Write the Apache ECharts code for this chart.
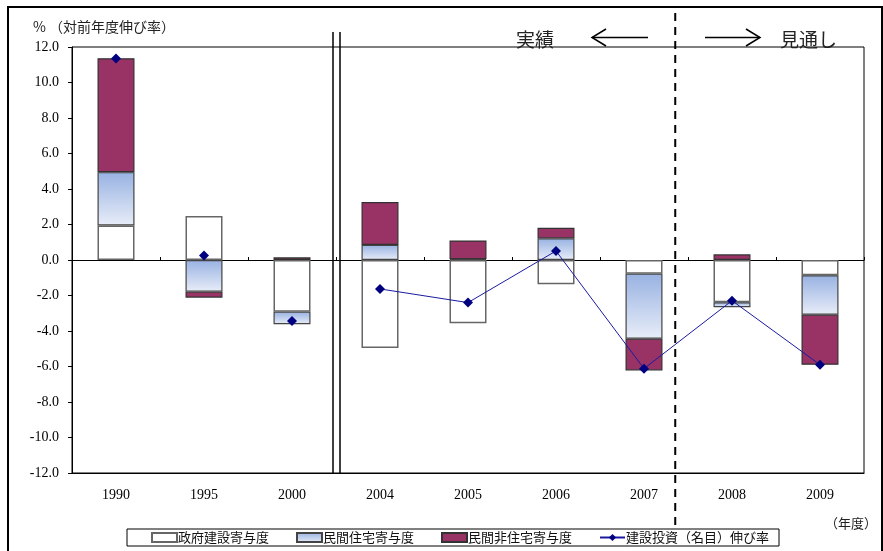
<!DOCTYPE html>
<html>
<head>
<meta charset="utf-8">
<script src="https://cdn.jsdelivr.net/npm/echarts@6/dist/echarts.min.js"></script>
<style>
  html, body { margin: 0; padding: 0; background: #fff; }
  #chart { width: 883px; height: 551px; }
</style>
</head>
<body>
<div id="chart"></div>
<script>
  // 年度
  var categories = ['1990', '1995', '2000', '2004', '2005', '2006', '2007', '2008', '2009'];
  // 寄与度 (%)
  var govValues = [1.95, 2.48, -2.91, -4.96, -3.57, -1.37, -0.77, -2.38, -0.86];
  var housingValues = [3.0, -1.78, -0.71, 0.85, 0.05, 1.22, -3.66, -0.28, -2.22];
  var nonResValues = [6.42, -0.34, 0.15, 2.42, 1.05, 0.6, -1.79, 0.32, -2.82];
  // 建設投資（名目）伸び率
  var growthValues = [11.35, 0.25, -3.44, -1.63, -2.4, 0.51, -6.12, -2.29, -5.9];
  var yTicks = [-12, 12, 2];

  var serif = '"Liberation Serif", "Times New Roman", serif';
  var jp = '"Noto Sans CJK JP", sans-serif';
  var growthName = '建設投資（名目）伸び率';

  var myChart = echarts.init(document.getElementById('chart'));

  myChart.setOption({
    animation: false,
    title: [
      {
        text: '% （対前年度伸び率）',
        left: 28, top: 15,
        textStyle: {fontFamily: jp, fontSize: 14, fontWeight: 'normal', color: '#222'}
      },
      {
        text: '（年度）',
        left: 820, top: 512,
        textStyle: {fontFamily: jp, fontSize: 13, fontWeight: 'normal', color: '#222'}
      }
    ],
    grid: {
      left: 72, right: 19, top: 47, bottom: 78,
      show: true, borderColor: '#000', borderWidth: 1
    },
    legend: {
      left: 127, top: 529,
      padding: [2, 10, 2, 24],
      itemGap: 27,
      itemWidth: 25, itemHeight: 9,
      borderColor: '#000', borderWidth: 1,
      textStyle: {fontFamily: jp, fontSize: 13, color: '#111', padding: [0, 0, 0, -4]},
      data: [
        {name: '政府建設寄与度', icon: 'rect'},
        {name: '民間住宅寄与度', icon: 'rect'},
        {name: '民間非住宅寄与度', icon: 'rect'},
        growthName
      ]
    },
    xAxis: [
      {
        type: 'category',
        data: categories,
        axisLine: {onZero: false, lineStyle: {color: '#000'}},
        axisTick: {show: false},
        axisLabel: {fontFamily: serif, fontSize: 14, color: '#000', margin: 15}
      },
      {
        type: 'category',
        data: categories,
        position: 'bottom',
        axisLine: {onZero: true, lineStyle: {color: '#000'}},
        axisTick: {show: true, inside: true, length: 3, lineStyle: {color: '#000'}},
        axisLabel: {show: false}
      }
    ],
    yAxis: {
      type: 'value',
      min: yTicks[0], max: yTicks[1], interval: yTicks[2],
      splitLine: {show: false},
      axisLine: {show: true, lineStyle: {color: '#000'}},
      axisTick: {show: true, length: 4, lineStyle: {color: '#000'}},
      axisLabel: {
        fontFamily: serif, fontSize: 14, color: '#000', margin: 13,
        formatter: function (v) { return v.toFixed(1); }
      }
    },
    series: [
      {
        name: '政府建設寄与度',
        type: 'bar', stack: 'total', barWidth: 37,
        itemStyle: {color: '#fff', borderColor: '#666', borderWidth: 1.5},
        data: govValues
      },
      {
        name: '民間住宅寄与度',
        type: 'bar', stack: 'total', barWidth: 37,
        itemStyle: {
          color: new echarts.graphic.LinearGradient(0, 0, 0, 1, [
            {offset: 0, color: '#98b2e2'},
            {offset: 1, color: '#e8edf8'}
          ]),
          borderColor: '#444', borderWidth: 1.2
        },
        data: housingValues
      },
      {
        name: '民間非住宅寄与度',
        type: 'bar', stack: 'total', barWidth: 37,
        itemStyle: {color: '#993366', borderColor: '#333', borderWidth: 1.2},
        data: nonResValues
      },
      {
        name: growthName,
        type: 'line', z: 5,
        symbol: 'diamond', symbolSize: 10,
        itemStyle: {color: '#000080'},
        lineStyle: {color: '#1a1aa0', width: 1},
        data: growthValues.map(function (v, i) { return i >= 3 ? v : null; })
      },
      {
        name: growthName,
        type: 'line', z: 5,
        symbol: 'diamond', symbolSize: 10,
        itemStyle: {color: '#000080'},
        lineStyle: {opacity: 0},
        data: growthValues.map(function (v, i) { return i < 3 ? v : null; })
      }
    ]
  });

  // 区切り線（2000|2004 の二重線、実績/見通しの破線）
  var px = function (i) { return myChart.convertToPixel({xAxisIndex: 0}, categories[i]); };
  var yBottom = myChart.convertToPixel({yAxisIndex: 0}, yTicks[0]);
  var xDouble = (px(2) + px(3)) / 2;
  var xDash = px(6) + 0.355 * (px(7) - px(6));

  myChart.setOption({
    graphic: [
      {type: 'rect', shape: {x: 8, y: 7, width: 874, height: 570},
        style: {fill: 'none', stroke: '#000', lineWidth: 2}, silent: true},
      {type: 'line', shape: {x1: xDouble - 3, y1: 32, x2: xDouble - 3, y2: yBottom},
        style: {stroke: '#000', lineWidth: 1.5}},
      {type: 'line', shape: {x1: xDouble + 4, y1: 32, x2: xDouble + 4, y2: yBottom},
        style: {stroke: '#000', lineWidth: 1.5}},
      {type: 'line', shape: {x1: xDash, y1: 13, x2: xDash, y2: 527},
        style: {stroke: '#000', lineWidth: 2, lineDash: [8, 6]}},
      {type: 'text', x: 516, y: 30,
        style: {text: '実績', font: '19px "Noto Sans CJK JP"', fill: '#222'}},
      {type: 'text', x: 780, y: 30,
        style: {text: '見通し', font: '19px "Noto Sans CJK JP"', fill: '#222'}},
      {type: 'polyline', shape: {points: [[606, 29], [592, 37.5], [606, 46]]},
        style: {stroke: '#000', lineWidth: 1.5, fill: 'none'}},
      {type: 'line', shape: {x1: 592, y1: 37.5, x2: 648, y2: 37.5},
        style: {stroke: '#000', lineWidth: 1.5}},
      {type: 'polyline', shape: {points: [[746, 29], [760, 37.5], [746, 46]]},
        style: {stroke: '#000', lineWidth: 1.5, fill: 'none'}},
      {type: 'line', shape: {x1: 705, y1: 37.5, x2: 760, y2: 37.5},
        style: {stroke: '#000', lineWidth: 1.5}}
    ]
  });
</script>
</body>
</html>
